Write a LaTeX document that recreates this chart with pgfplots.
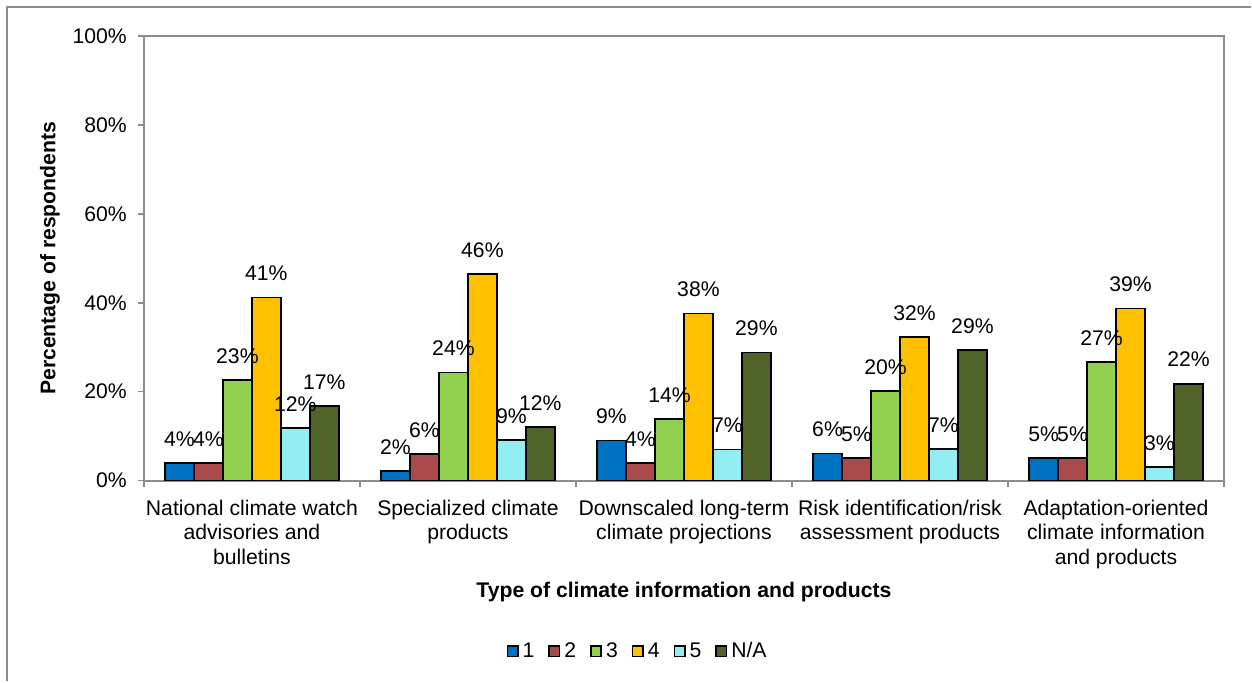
\documentclass[border=0pt]{standalone}
\usepackage{pgfplots}
\pgfplotsset{compat=1.18}
\usepackage{fontspec}
\setmainfont{Liberation Sans}

\definecolor{c1}{HTML}{0070C0}
\definecolor{c2}{HTML}{A84B4A}
\definecolor{c3}{HTML}{92D050}
\definecolor{c4}{HTML}{FFC000}
\definecolor{c5}{HTML}{93EEF4}
\definecolor{c6}{HTML}{4F6228}
\definecolor{framegray}{HTML}{8C8C8C}

\begin{document}
\begin{tikzpicture}
\path (0,0) rectangle (626pt,341pt);
% chart area border
\draw[framegray, line width=1pt] (3.5pt,0pt) -- (3.5pt,337.5pt) -- (626pt,337.5pt);
\begin{axis}[
  at={(72pt,100.5pt)}, anchor=south west,
  scale only axis, width=540.5pt, height=222.5pt,
  ybar=0pt, bar width=14.5pt,
  xmin=-0.5, xmax=4.5, ymin=0, ymax=100,
  xtick={0,1,2,3,4},
  xticklabels={{National climate watch\\advisories and\\bulletins},
               {Specialized climate\\products},
               {Downscaled long-term\\climate projections},
               {Risk identification/risk\\assessment products},
               {Adaptation-oriented\\climate information\\and products}},
  xticklabel style={align=center, font=\fontsize{10.6}{12.5}\selectfont, yshift=-3pt},
  major x tick style={draw=none},
  minor xtick={-0.5,0.5,1.5,2.5,3.5,4.5},
  minor tick length=3pt,
  ytick={0,20,40,60,80,100},
  yticklabels={0\%,20\%,40\%,60\%,80\%,100\%},
  yticklabel style={font=\fontsize{10.6}{12}\selectfont, xshift=-2pt},
  tick align=outside, major tick length=3pt,
  tick style={framegray, line width=0.8pt},
  axis line style={framegray, line width=1pt},
  xtick pos=bottom, ytick pos=left,
  ylabel={\textbf{Percentage of respondents}},
  ylabel style={at={(axis description cs:-0.087,0.5)}, anchor=center, font=\fontsize{10.6}{12}\selectfont},
  xlabel={\textbf{Type of climate information and products}},
  xlabel style={at={(axis description cs:0.5,-0.25)}, anchor=center, font=\fontsize{10.6}{12}\selectfont},
  /pgf/number format/assume math mode=true,
  nodes near coords={\pgfmathprintnumber[fixed,precision=0]{\pgfplotspointmeta}\%},
  every node near coord/.append style={font=\fontsize{10.6}{12}\selectfont, anchor=south, yshift=4.5pt, text=black},
  every axis plot/.append style={draw=black, line width=0.9pt},
  legend columns=-1,
  legend style={draw=none, fill=none, at={(0.458,-0.384)}, anchor=center,
    font=\fontsize{10.6}{12}\selectfont,
    /tikz/every even column/.append style={column sep=5pt}},
  legend image code/.code={\draw[#1, line width=0.8pt] (0pt,-2.6pt) rectangle (5.2pt,2.6pt);},
]
\addplot[fill=c1] coordinates {(0,4.0) (1,2.1) (2,9.0) (3,6.1) (4,5.0)};
\addplot[fill=c2] coordinates {(0,4.0) (1,6.0) (2,4.0) (3,5.1) (4,5.0)};
\addplot[fill=c3] coordinates {(0,22.6) (1,24.3) (2,13.9) (3,20.2) (4,26.7)};
\addplot[fill=c4] coordinates {(0,41.2) (1,46.4) (2,37.6) (3,32.3) (4,38.7)};
\addplot[fill=c5] coordinates {(0,11.8) (1,9.1) (2,7.0) (3,7.1) (4,3.0)};
\addplot[fill=c6] coordinates {(0,16.8) (1,12.1) (2,28.8) (3,29.3) (4,21.8)};
\legend{1,2,3,4,5,N/A}
\end{axis}
\end{tikzpicture}
\end{document}
